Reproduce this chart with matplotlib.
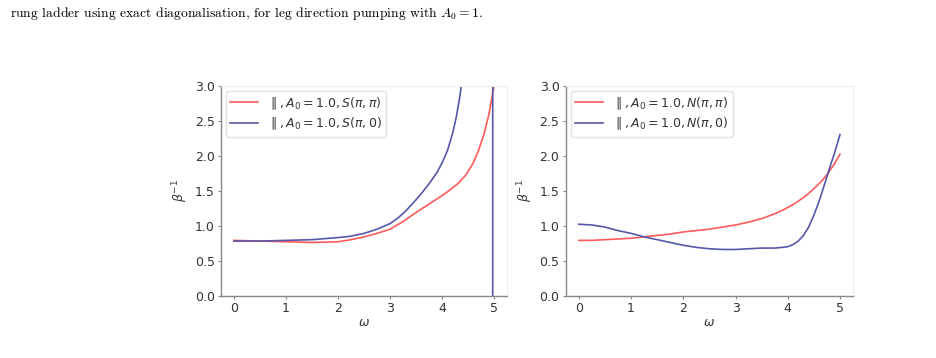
import matplotlib
matplotlib.use("Agg")
import matplotlib.pyplot as plt

# left panel: S(pi, pi) and S(pi, 0)
w_s_pp = [0.0, 0.5, 1.0, 1.5, 2.0, 2.25, 2.5, 2.75, 3.0, 3.25, 3.5, 3.75, 4.0, 4.15, 4.3, 4.45, 4.6, 4.7, 4.8, 4.9, 5.0]
s_pp = [0.79, 0.78, 0.77, 0.76, 0.77, 0.80, 0.84, 0.89, 0.95, 1.06, 1.19, 1.31, 1.43, 1.51, 1.60, 1.72, 1.90, 2.08, 2.30, 2.60, 3.02]
w_s_p0 = [0.0, 0.5, 1.0, 1.5, 2.0, 2.25, 2.5, 2.75, 3.0, 3.15, 3.3, 3.45, 3.6, 3.75, 3.9, 4.0, 4.1, 4.2, 4.27, 4.34, 4.4, 4.5, 4.7, 4.97, 4.97]
s_p0 = [0.78, 0.78, 0.79, 0.80, 0.83, 0.85, 0.89, 0.95, 1.03, 1.11, 1.21, 1.33, 1.46, 1.60, 1.76, 1.90, 2.07, 2.32, 2.55, 2.85, 3.2, 4.0, 6.0, 60.0, -60.0]

# right panel: N(pi, pi) and N(pi, 0)
w_n = [0.0, 0.25, 0.5, 0.75, 1.0, 1.25, 1.5, 1.75, 2.0, 2.25, 2.5, 2.75, 3.0, 3.25, 3.5, 3.75, 3.9, 4.0, 4.1, 4.2, 4.3, 4.4, 4.5, 4.6, 4.7, 4.8, 4.9, 5.0]
n_pp = [0.79, 0.79, 0.80, 0.81, 0.82, 0.84, 0.86, 0.88, 0.91, 0.93, 0.95, 0.98, 1.01, 1.05, 1.10, 1.17, 1.22, 1.26, 1.30, 1.35, 1.40, 1.46, 1.53, 1.60, 1.68, 1.78, 1.89, 2.02]
n_p0 = [1.02, 1.01, 0.98, 0.93, 0.89, 0.84, 0.80, 0.76, 0.72, 0.69, 0.67, 0.66, 0.66, 0.67, 0.68, 0.68, 0.69, 0.70, 0.73, 0.78, 0.86, 0.98, 1.15, 1.35, 1.58, 1.82, 2.05, 2.30]

red = "#ff5a5a"
blue = "#5656aa"
axis_grey = "#888888"
text_grey = "#333333"

fig = plt.figure(figsize=(9.36, 3.58), dpi=100)

fig.text(0.011, 0.962, r"rung ladder using exact diagonalisation, for leg direction pumping with $A_0 = 1$.",
         fontfamily="cmr10", math_fontfamily="cm", fontsize=9.85, va="center", ha="left")

ax1 = fig.add_axes([0.236, 0.174, 0.306, 0.587])
ax2 = fig.add_axes([0.6044, 0.174, 0.307, 0.587])

ax1.plot(w_s_pp, s_pp, color=red, lw=1.2, label=r"$\parallel, A_0 = 1.0, S(\pi,\pi)$")
ax1.plot(w_s_p0, s_p0, color=blue, lw=1.2, label=r"$\parallel, A_0 = 1.0, S(\pi,0)$")
ax2.plot(w_n, n_pp, color=red, lw=1.2, label=r"$\parallel, A_0 = 1.0, N(\pi,\pi)$")
ax2.plot(w_n, n_p0, color=blue, lw=1.2, label=r"$\parallel, A_0 = 1.0, N(\pi,0)$")

for ax in (ax1, ax2):
    ax.set_xlim(-0.25, 5.25)
    ax.set_ylim(0, 3.0)
    ax.set_xticks([0, 1, 2, 3, 4, 5])
    ax.set_yticks([0.0, 0.5, 1.0, 1.5, 2.0, 2.5, 3.0])
    ax.set_xlabel(r"$\omega$", fontsize=9, color=text_grey, labelpad=1)
    ax.set_ylabel(r"$\beta^{-1}$", fontsize=9, color=text_grey, labelpad=3)
    ax.tick_params(labelsize=9, labelcolor=text_grey, color=axis_grey, length=2.5, width=0.8, pad=2)
    for s in ("left", "bottom"):
        ax.spines[s].set_color(axis_grey)
        ax.spines[s].set_linewidth(1.0)
    for s in ("top", "right"):
        ax.spines[s].set_color("#eeeeee")
        ax.spines[s].set_linewidth(0.8)
    leg = ax.legend(loc="upper left", fontsize=9, frameon=True, handlelength=2.2,
                    borderpad=0.35, labelspacing=0.35, borderaxespad=0.4)
    leg.get_frame().set_edgecolor("#dddddd")
    for t in leg.get_texts():
        t.set_color(text_grey)

fig.savefig("out.png", dpi=100, facecolor="white")
